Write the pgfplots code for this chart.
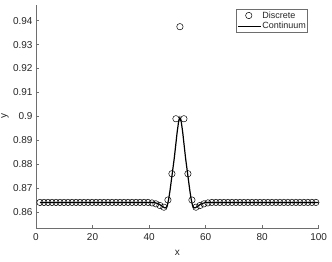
\documentclass[border=0pt]{standalone}
\usepackage{fontspec}
\setmainfont{Liberation Sans}
\usepackage{pgfplots}
\pgfplotsset{compat=1.18}
\usetikzlibrary{calc}
\definecolor{axcol}{RGB}{38,38,38}
\definecolor{linecol}{RGB}{110,110,110}
\pgfplotsset{
  disclegend/.style={legend image code/.code={\draw[##1] plot coordinates {(11pt,0pt)};}},
  contlegend/.style={legend image code/.code={\draw[##1] (0pt,0pt) -- (23pt,0pt);}},
}
\begin{document}
\begin{tikzpicture}
\begin{axis}[
  name=ax,
  scale only axis,
  width=282.7pt, height=223.3pt,
  xmin=0, xmax=100, ymin=0.8533, ymax=0.9467,
  axis x line=bottom, axis y line=left,
  axis line style={-, linecol, line width=0.6pt},
  tick align=inside, major tick length=2.8pt,
  tick style={linecol, line width=0.6pt},
  xtick={0,20,40,60,80,100},
  ytick={0.86,0.87,0.88,0.89,0.9,0.91,0.92,0.93,0.94},
  yticklabels={0.86,0.87,0.88,0.89,0.9,0.91,0.92,0.93,0.94},
  /pgf/number format/assume math mode=true,
  ticklabel style={font=\fontsize{10}{12}\selectfont, text=axcol},
  xticklabel style={yshift=-2pt},
  xlabel={x},
  every axis x label/.style={at={(rel axis cs:0.5,0)}, anchor=center, yshift=-24.7pt,
     font=\fontsize{10}{12}\selectfont, text=axcol},
  legend style={at={(1,1)}, anchor=north east, xshift=-11pt, yshift=-4.3pt,
    draw=linecol, line width=0.6pt, fill=white, inner xsep=0.5pt, inner ysep=1pt, row sep=0.5pt,
    nodes={inner xsep=1pt, inner ysep=1.2pt},
    font=\fontsize{9}{11}\selectfont, text=axcol},
  legend cell align=left,
]
\addplot[only marks, mark=o, mark size=3.2pt, mark options={line width=0.5pt, black}, disclegend]
coordinates {
(1.414,0.8640)(2.828,0.8640)(4.243,0.8640)(5.657,0.8640)(7.071,0.8640)(8.485,0.8640)(9.899,0.8640)(11.314,0.8640)(12.728,0.8640)(14.142,0.8640)
(15.556,0.8640)(16.971,0.8640)(18.385,0.8640)(19.799,0.8640)(21.213,0.8640)(22.627,0.8640)(24.042,0.8640)(25.456,0.8640)(26.870,0.8640)(28.284,0.8640)
(29.698,0.8640)(31.113,0.8640)(32.527,0.8640)(33.941,0.8640)(35.355,0.8640)(36.770,0.8640)(38.184,0.8640)(39.598,0.8640)(41.012,0.8638)(42.426,0.8634)
(43.841,0.8627)(45.255,0.8620)(46.669,0.8650)(48.083,0.8760)(49.497,0.8990)(50.912,0.9375)(52.326,0.8990)(53.740,0.8760)(55.154,0.8650)(56.569,0.8620)
(57.983,0.8627)(59.397,0.8634)(60.811,0.8638)(62.225,0.8640)(63.640,0.8640)(65.054,0.8640)(66.468,0.8640)(67.882,0.8640)(69.296,0.8640)(70.711,0.8640)
(72.125,0.8640)(73.539,0.8640)(74.953,0.8640)(76.368,0.8640)(77.782,0.8640)(79.196,0.8640)(80.610,0.8640)(82.024,0.8640)(83.439,0.8640)(84.853,0.8640)
(86.267,0.8640)(87.681,0.8640)(89.095,0.8640)(90.510,0.8640)(91.924,0.8640)(93.338,0.8640)(94.752,0.8640)(96.167,0.8640)(97.581,0.8640)(98.995,0.8640)
(100.409,0.8640)
};
\addlegendentry{Discrete}
\addplot[black, line width=1.2pt, no marks, contlegend]
coordinates {
(1.414,0.8640)(40.91,0.8640)(41.91,0.8639)(42.91,0.8636)(43.91,0.8630)(44.91,0.8622)(45.41,0.8618)(45.91,0.8617)(46.41,0.8625)
(46.91,0.8652)(47.41,0.8690)(47.91,0.8735)(48.41,0.8780)(48.91,0.8825)(49.41,0.8878)(49.91,0.8932)(50.41,0.8975)(50.91,0.8995)
(51.41,0.8975)(51.91,0.8932)(52.41,0.8878)(52.91,0.8825)(53.41,0.8780)(53.91,0.8735)(54.41,0.8690)(54.91,0.8652)
(55.41,0.8625)(55.91,0.8617)(56.41,0.8618)(56.91,0.8622)(57.91,0.8630)(58.91,0.8636)(59.91,0.8639)(60.91,0.8640)(100.409,0.8640)
};
\addlegendentry{Continuum}
\end{axis}
\node[rotate=90, anchor=center, font=\fontsize{10}{12}\selectfont, text=axcol]
  at ($(ax.south west)!0.5!(ax.north west)+(-31pt,0)$) {y};
\pgfresetboundingbox
\path ($(ax.south west)+(-36pt,-34pt)$) rectangle ($(ax.north east)+(13.3pt,4.7pt)$);
\end{tikzpicture}
\end{document}
